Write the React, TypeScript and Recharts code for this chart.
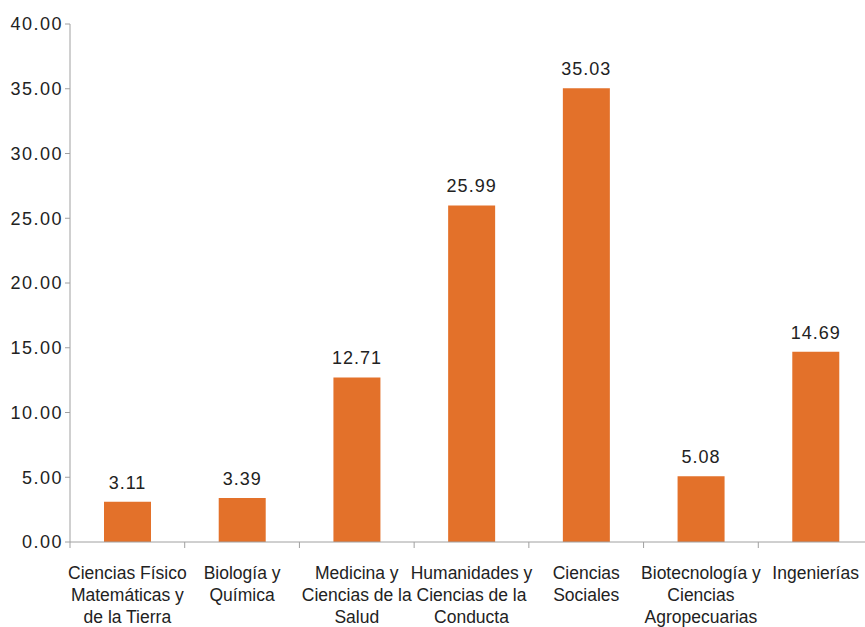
import { Bar, BarChart, LabelList, XAxis, YAxis } from 'recharts';

const categories = [
  'Ciencias Físico\nMatemáticas y\nde la Tierra',
  'Biología y\nQuímica',
  'Medicina y\nCiencias de la\nSalud',
  'Humanidades y\nCiencias de la\nConducta',
  'Ciencias\nSociales',
  'Biotecnología y\nCiencias\nAgropecuarias',
  'Ingenierías',
];

const values = [3.11, 3.39, 12.71, 25.99, 35.03, 5.08, 14.69];

const yTicks = [0, 5, 10, 15, 20, 25, 30, 35, 40];

const chartData = categories.map((name, i) => ({ name, value: values[i] }));

const CHART_W = 880;
const CHART_H = 627;
const MARGIN = { top: 24, right: 7, left: 0, bottom: 0 };
const Y_AXIS_W = 70;
const BAND = (CHART_W - MARGIN.left - MARGIN.right - Y_AXIS_W) / categories.length;

const AXIS = '#a0a0a0';
const TEXT = '#222222';
const FONT = '"Liberation Sans", Arial, sans-serif';

// tick y arrives below the axis by tickSize + tickMargin (6 + 2)
function CategoryTick(props: any) {
  const { x, y, payload } = props;
  const lines: string[] = String(payload.value).split('\n');
  const left = x - BAND / 2;
  const axisY = y - 8;
  return (
    <g>
      <line x1={left} y1={axisY} x2={left} y2={axisY + 6} stroke={AXIS} strokeWidth={1} />
      <text x={x} y={axisY + 37} textAnchor="middle" fill={TEXT} fontSize={17.5} fontFamily={FONT}>
        {lines.map((line, i) => (
          <tspan key={i} x={x} dy={i === 0 ? 0 : 22}>
            {line}
          </tspan>
        ))}
      </text>
    </g>
  );
}

export default function App() {
  return (
    <div
      style={{
        position: 'absolute',
        left: 0,
        top: 0,
        width: 865,
        height: 627,
        overflow: 'hidden',
        background: '#fff',
      }}
    >
      <BarChart width={CHART_W} height={CHART_H} data={chartData} margin={MARGIN} barSize={47}>
        <XAxis
          dataKey="name"
          interval={0}
          height={85}
          axisLine={{ stroke: AXIS }}
          tickLine={false}
          tick={<CategoryTick />}
        />
        <YAxis
          width={Y_AXIS_W}
          domain={[0, 40]}
          ticks={yTicks}
          interval={0}
          axisLine={{ stroke: AXIS }}
          tickLine={{ stroke: AXIS }}
          tickSize={5}
          tickFormatter={(v: number) => v.toFixed(2)}
          tick={{ fill: TEXT, fontSize: 18, fontFamily: FONT, letterSpacing: 1.5 }}
        />
        <Bar dataKey="value" fill="#e3712a" isAnimationActive={false}>
          <LabelList
            dataKey="value"
            position="top"
            offset={13}
            formatter={(v: any) => Number(v).toFixed(2)}
            style={{ fill: TEXT, fontSize: 18, fontFamily: FONT, letterSpacing: 1 }}
          />
        </Bar>
      </BarChart>
    </div>
  );
}
